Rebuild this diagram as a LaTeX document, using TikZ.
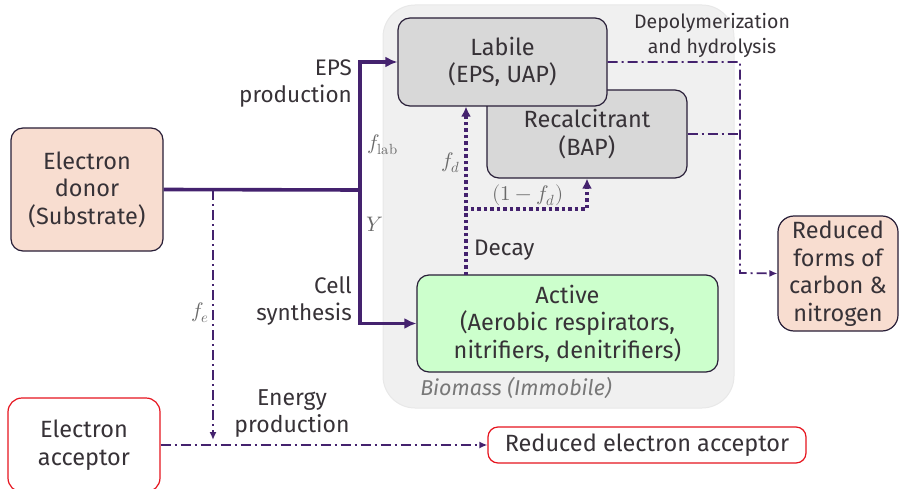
\documentclass[tikz,border=0pt]{standalone}
\usepackage{fontspec}
\usepackage{unicode-math}
\setmainfont{Fira Sans}
\setmathfont{Latin Modern Math}
\usetikzlibrary{arrows.meta,calc}
\definecolor{flow}{RGB}{68,34,110}
\definecolor{edge}{RGB}{40,30,55}
\definecolor{txt}{RGB}{55,50,55}
\definecolor{peach}{RGB}{248,221,208}
\definecolor{poolgray}{RGB}{216,216,216}
\definecolor{activegreen}{RGB}{204,255,204}
\definecolor{redline}{RGB}{230,20,30}
\definecolor{bgpanel}{RGB}{240,240,240}
\definecolor{mathgray}{RGB}{105,105,105}
\tikzset{
  box/.style={draw=edge, line width=1.2pt, rounded corners=12pt, align=center,
    text=txt, font=\fontsize{23.5}{27.5}\selectfont, inner sep=0pt},
  redbox/.style={draw=redline, line width=1.2pt, rounded corners=10pt, align=center,
    fill=white, text=txt, font=\fontsize{23.5}{27.5}\selectfont, inner sep=0pt},
  lbl/.style={text=txt, font=\fontsize{22.5}{27}\selectfont, align=right, inner sep=0pt},
  mlbl/.style={text=mathgray, inner sep=0pt, font=\fontsize{21}{24}\selectfont},
  thick flow/.style={draw=flow, line width=3.6pt},
  thick arrow/.style={thick flow, -{Latex[length=12pt,width=11pt]}},
  dashdot flow/.style={draw=flow, line width=1.8pt,
    dash pattern=on 10pt off 4pt on 2pt off 4pt},
  dashdot arrow/.style={dashdot flow, -{Latex[length=8pt,width=7pt]}},
  dotted flow/.style={draw=flow, line width=3.6pt, dash pattern=on 3.5pt off 3pt},
  dotted arrow/.style={dotted flow, -{Latex[length=10pt,width=10pt]}},
}
\begin{document}
\begin{tikzpicture}[x=1pt,y=-1pt]
\useasboundingbox (0,0) rectangle (899,489);

% biomass panel
\fill[bgpanel, draw={rgb,255:red,232;green,232;blue,232}, line width=1pt, rounded corners=32pt]
  (383,5) rectangle (734,408);
\node[text=mathgray!90, font=\fontsize{21.5}{24}\selectfont\itshape, inner sep=0pt]
  (biolbl) at (516,388) {Biomass (Immobile)};

% nodes
\node[box, fill=peach, minimum width=152pt, minimum height=123pt] (donor) at (87,189.5)
  {Electron\\donor\\(Substrate)};
\node[box, fill=poolgray, minimum width=200pt, minimum height=88pt] (rec) at (587,134)
  {\raisebox{10pt}{}Recalcitrant\\(BAP)};
\node[box, fill=poolgray, minimum width=209pt, minimum height=88pt] (lab) at (502.5,62)
  {Labile\\(EPS, UAP)};
\node[box, fill=activegreen, minimum width=301pt, minimum height=97pt] (act) at (567.5,323.5)
  {Active\\(Aerobic respirators,\\nitrifiers, denitrifiers)};
\node[box, fill=peach, minimum width=120pt, minimum height=115pt, rounded corners=16pt] (red) at (838,273.5)
  {Reduced\\forms of\\carbon \&\\nitrogen};
\node[redbox, minimum width=152pt, minimum height=94pt, rounded corners=14pt] (acc) at (84,445)
  {Electron\\acceptor};
\node[redbox, minimum width=318pt, minimum height=36pt] (rea) at (647,445)
  {Reduced electron acceptor};

% substrate split: EPS production and cell synthesis
\coordinate (split) at (360,190);
\coordinate (fetop) at (213,190);
\draw[thick flow] (donor.east) -- (split);
\draw[thick arrow] ($(split)+(0,1.8)$) |- (lab.west);
\draw[thick arrow] ($(split)+(0,-1.8)$) |- (act.west);

\node[lbl, anchor=east] (eps) at (352,84) {EPS\\production};
\node[lbl, anchor=east] (cell) at (352,301) {Cell\\synthesis};
\node[mlbl, anchor=west] (flab) at (367,145) {$f_{\symup{lab}}$};
\node[mlbl] (yl) at (375,224) {$Y$};

% energy production
\coordinate (feend) at (213,440);
\draw[dashdot arrow] (fetop) -- (feend);
\node[mlbl] (fel) at (200,313) {$f_e$};
\draw[dashdot arrow] (acc.east) -- (rea.west);
\node[lbl, align=center, font=\fontsize{23}{27}\selectfont] (energy) at (292,414) {Energy\\production};

% decay
\coordinate (dk) at (466,275);
\coordinate (db) at (466,209);
\draw[dotted arrow] (dk) -- (dk |- lab.south);
\draw[dotted arrow] ($(db)+(-1.8,0)$) -| (rec.south);
\node[mlbl] (fdl) at (451,163) {$f_d$};
\node[mlbl] (fdl2) at (528,195) {$(1-f_d)$};
\node[lbl, anchor=west] (decay) at (474,250) {Decay};

% depolymerization and hydrolysis
\coordinate (dj) at (740,273);
\draw[dashdot arrow] (lab.east) -| (dj) -- (red.west);
\draw[dashdot flow] (rec.east) -- (rec.east -| dj);
\node[lbl, align=center, font=\fontsize{19.5}{25}\selectfont] (depol) at (712,35)
  {Depolymerization\\and hydrolysis};
\end{tikzpicture}
\end{document}
